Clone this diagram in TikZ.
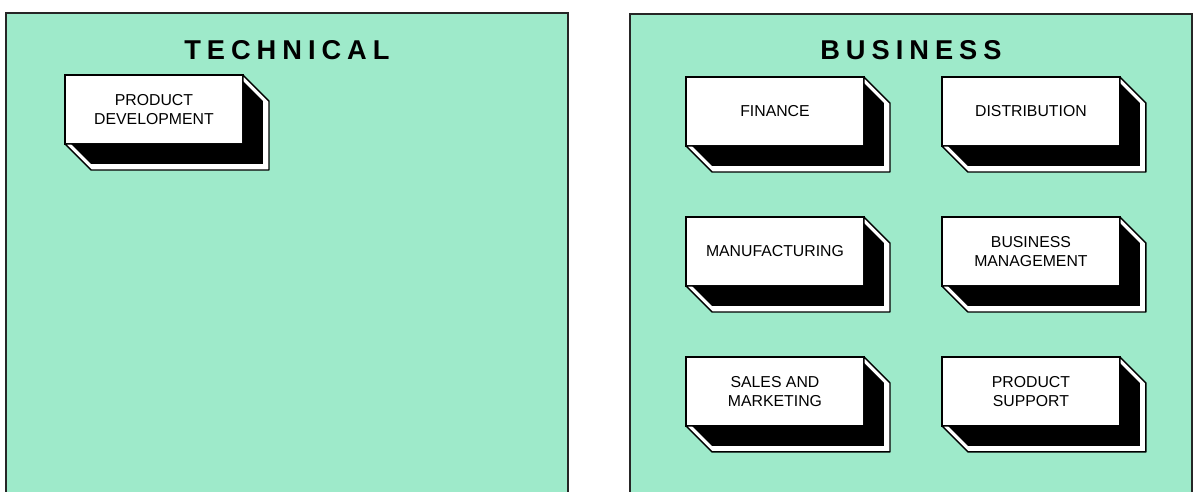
\documentclass[tikz,border=0pt]{standalone}
\usepackage{fontspec}
\setmainfont{Liberation Sans}
\usepackage{xcolor}
\usepackage{tikz}
\usetikzlibrary{positioning}
\definecolor{mint}{RGB}{158,234,202}
\tikzset{
  panel/.style  = {draw=black!85, line width=0.8pt, fill=mint, anchor=north west,
                   minimum width=11.24cm, minimum height=10cm, inner sep=0pt, outer sep=0pt},
  heading/.style= {font=\fontsize{15.5}{18}\selectfont\bfseries\addfontfeature{LetterSpace=22}},
  card/.style   = {draw, line width=0.8pt, fill=white, minimum width=3.56cm,
                   minimum height=1.38cm, align=center, inner sep=1pt, outer sep=0pt,
                   font=\fontsize{9}{10.4}\selectfont},
  rim/.style    = {draw, line width=0.8pt, fill=white, line join=round},
  slab/.style   = {fill=black}
}
\begin{document}
\begin{tikzpicture}[x=0.02cm, y=-0.02cm, node distance=1.42cm and 1.56cm]
  \useasboundingbox (0,0) rectangle (1198,491);
  \clip (0,0) rectangle (1198,491);
  % the two panels run off the bottom edge
  \node[panel] (tech) at (6,13)   {};
  \node[panel] (biz)  at (630,14) {};
  \node[heading] (techhead) at ([yshift=-0.74cm]tech.north) {TECHNICAL};
  \node[heading] (bizhead)  at ([yshift=-0.72cm]biz.north)  {BUSINESS};
  % front faces
  \node[card, anchor=north west] (proddev) at (65,75)  {PRODUCT\\DEVELOPMENT};
  \node[card, anchor=north west] (fin)     at (686,77) {FINANCE};
  \node[card, right=of fin]     (dist)  {DISTRIBUTION};
  \node[card, below=of fin]     (manu)  {MANUFACTURING};
  \node[card, below=of dist]    (mgmt)  {BUSINESS\\MANAGEMENT};
  \node[card, below=of manu]    (sales) {SALES AND\\MARKETING};
  \node[card, below=of mgmt]    (supp)  {PRODUCT\\SUPPORT};
  % extruded sides
  \foreach \n in {proddev, fin, dist, manu, mgmt, sales, supp} {
    \draw[rim] (\n.north east) -- ([shift={(26,26)}]\n.north east)
      -- ([shift={(26,26)}]\n.south east) -- ([shift={(26,26)}]\n.south west)
      -- (\n.south west) -- (\n.south east) -- cycle;
    \fill[slab] ([shift={(0,6)}]\n.north east) -- ([shift={(20,26)}]\n.north east)
      -- ([shift={(20,20)}]\n.south east) -- ([shift={(26,20)}]\n.south west)
      -- ([shift={(6,0)}]\n.south west) -- (\n.south east) -- cycle;
  }
\end{tikzpicture}
\end{document}
